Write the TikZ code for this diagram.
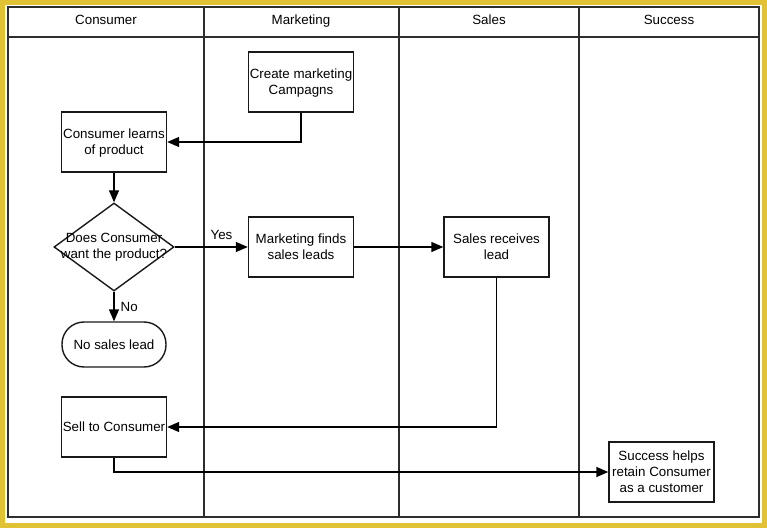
\documentclass[tikz,border=0pt]{standalone}
\usepackage{fontspec}
\setmainfont{Liberation Sans}
\usetikzlibrary{arrows.meta,shapes.geometric}
\newcommand\lbl{\fontsize{13.4}{16}\selectfont}
\definecolor{frameyellow}{RGB}{224,194,52}
\definecolor{laneline}{RGB}{45,45,45}
\tikzset{
  lanebox/.style={draw=laneline, line width=1.7bp},
  hdr/.style={font=\lbl, inner sep=0pt, anchor=base},
  proc/.style={draw=black!90, line width=1.4bp, minimum width=105bp, minimum height=60bp,
    inner sep=0pt, align=center, font=\lbl, text depth=0pt},
  decision/.style={draw=black!90, line width=1.4bp, diamond, minimum width=120bp,
    minimum height=88bp, inner sep=0pt},
  terminal/.style={draw=black!90, line width=1.4bp, rounded corners=22bp, minimum width=104bp,
    minimum height=45bp, inner sep=0pt, align=center, font=\lbl},
  txt/.style={font=\lbl, align=center, inner sep=0pt, text depth=0pt},
  arr/.style={draw=black, line width=1.4bp, -{Triangle[length=12bp,width=10bp]}},
}
\begin{document}
\begin{tikzpicture}[x=1bp,y=-1bp]
\useasboundingbox (0,0) rectangle (767,528);
% yellow frame
\draw[frameyellow, line width=5bp] (2.5,2.5) rectangle (764.5,525.5);
% swimlanes
\draw[lanebox] (8,7) rectangle (759,517);
\draw[lanebox] (8,37) -- (759,37);
\draw[lanebox] (204,7) -- (204,517);
\draw[lanebox] (399,7) -- (399,517);
\draw[lanebox] (579,7) -- (579,517);
\node[hdr] (hcons) at (106,25) {Consumer};
\node[hdr] (hmark) at (301,25) {Marketing};
\node[hdr] (hsales) at (489,25) {Sales};
\node[hdr] (hsucc) at (669,25) {Success};
% nodes
\node[proc] (create) at (301,82) {Create marketing\\Campagns};
\node[proc] (learn) at (114,142) {Consumer learns\\of product};
\node[decision] (dec) at (114,247) {};
\node[txt] (dectxt) at (114,246) {Does Consumer\\want the product?};
\node[proc] (mfind) at (301,247) {Marketing finds\\sales leads};
\node[proc] (sales) at (496.5,247) {Sales receives\\lead};
\node[terminal] (nolead) at (114,344.5) {No sales lead};
\node[proc] (sell) at (114,427) {Sell to Consumer};
\node[proc] (succ) at (661.5,472) {Success helps\\retain Consumer\\as a customer};
% connectors
\draw[arr] (create.south) |- (learn.east);
\draw[arr] (learn.south) -- (dec.north);
\draw[arr] (dec.east) -- node[txt, pos=0.64, above=7bp] (yes) {Yes} (mfind.west);
\draw[arr] (mfind.east) -- (sales.west);
\draw[arr] (dec.south) -- node[txt, right=6bp] (no) {No} (nolead.north);
\draw[arr] (sales.south) |- (sell.east);
\draw[arr] (sell.south) |- (succ.west);
\end{tikzpicture}
\end{document}
